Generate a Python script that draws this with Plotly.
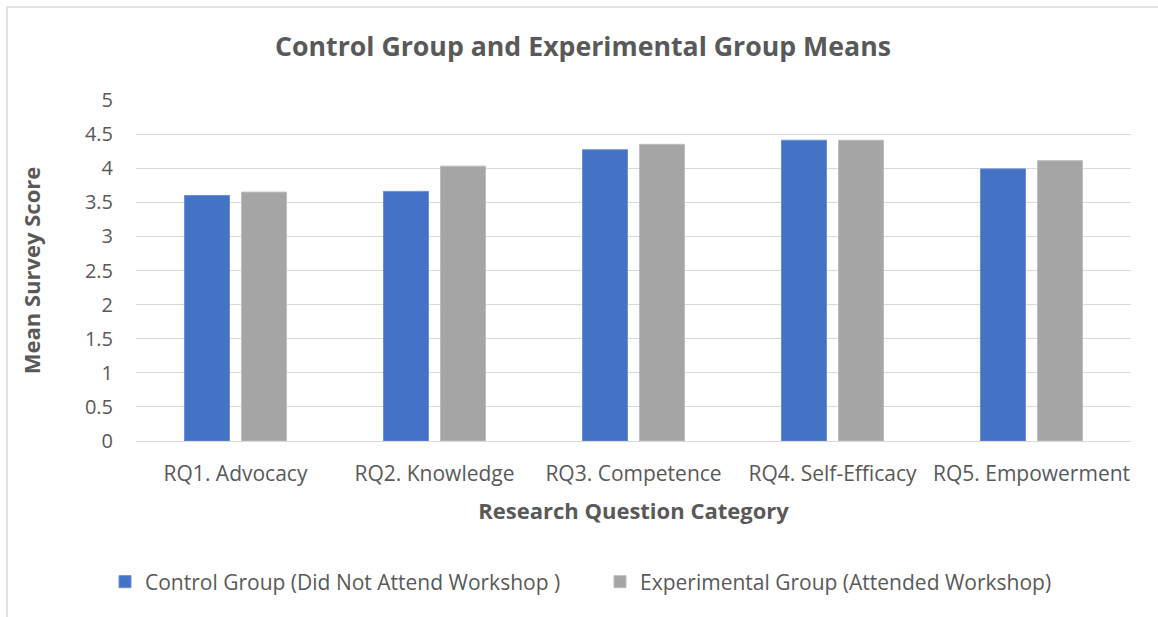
import plotly.graph_objects as go

categories = ["RQ1. Advocacy", "RQ2. Knowledge", "RQ3. Competence", "RQ4. Self-Efficacy", "RQ5. Empowerment"]
control = [3.60, 3.66, 4.27, 4.41, 3.99]
experimental = [3.65, 4.03, 4.35, 4.41, 4.11]
series_names = ["Control Group (Did Not Attend Workshop )", "Experimental Group (Attended Workshop)"]
y_ticks = [0, 0.5, 1, 1.5, 2, 2.5, 3, 3.5, 4, 4.5, 5]
y_tick_labels = ["0", "0.5", "1", "1.5", "2", "2.5", "3", "3.5", "4", "4.5", "5"]

FONT = "Open Sans"
TXT = "#595959"

fig = go.Figure()
fig.add_trace(go.Bar(x=categories, y=control, name=series_names[0],
                     marker=dict(color="#4472C4", line=dict(color="#6a8fd3", width=1))))
fig.add_trace(go.Bar(x=categories, y=experimental, name=series_names[1],
                     marker=dict(color="#A5A5A5", line=dict(color="#bdbdbd", width=1))))

L, R, T, B = 136, 27, 100, 176
W, H = 1158, 617
pw, ph = W - L - R, H - T - B

fig.update_layout(
    width=W, height=H,
    margin=dict(l=L, r=R, t=T, b=B, autoexpand=False),
    paper_bgcolor="white", plot_bgcolor="white",
    barmode="group", bargap=0.427, bargroupgap=0.21,
    font=dict(family=FONT, color=TXT),
    title=dict(text="<b>Control Group and Experimental Group Means</b>",
               x=(583 - L) / pw, xref="paper", xanchor="center",
               y=1 - 47 / H, yref="container", yanchor="middle",
               font=dict(size=26.7, color=TXT, family=FONT)),
    xaxis=dict(showgrid=False, showline=True, linecolor="#d9d9d9", linewidth=1,
               ticks="", tickfont=dict(size=21, color=TXT, family=FONT),
               ticklabelstandoff=14,
               title=dict(text="<b>Research Question Category</b>",
                          font=dict(size=22, color=TXT, family=FONT), standoff=17)),
    yaxis=dict(range=[0, 5], tickvals=y_ticks, ticktext=y_tick_labels,
               showgrid=True, gridcolor="#d9d9d9", gridwidth=1,
               zeroline=False, showline=False, ticks="",
               tickfont=dict(size=20, color=TXT, family=FONT),
               ticklabelstandoff=22,
               title=dict(text="<b>Mean Survey Score</b>",
                          font=dict(size=22, color=TXT, family=FONT), standoff=38)),
    legend=dict(orientation="h", x=(600 - L) / pw, xanchor="center",
                y=(H - B - 582) / ph, yanchor="middle",
                font=dict(size=21, color=TXT, family=FONT),
                itemwidth=30, entrywidth=450, traceorder="normal"),
    showlegend=True,
)

# chart border (top and left visible)
fig.add_shape(type="line", xref="paper", yref="paper",
              x0=(7 - L) / pw, x1=(W + 5 - L) / pw,
              y0=(H - B - 7) / ph, y1=(H - B - 7) / ph,
              line=dict(color="#d9d9d9", width=1.5))
fig.add_shape(type="line", xref="paper", yref="paper",
              x0=(7 - L) / pw, x1=(7 - L) / pw,
              y0=(H - B - 7) / ph, y1=(H - B - (H + 5)) / ph,
              line=dict(color="#d9d9d9", width=1.5))

fig.write_html("out.html", config={"displayModeBar": False},
               post_script="document.body.style.margin='0';document.body.style.overflow='hidden';")
